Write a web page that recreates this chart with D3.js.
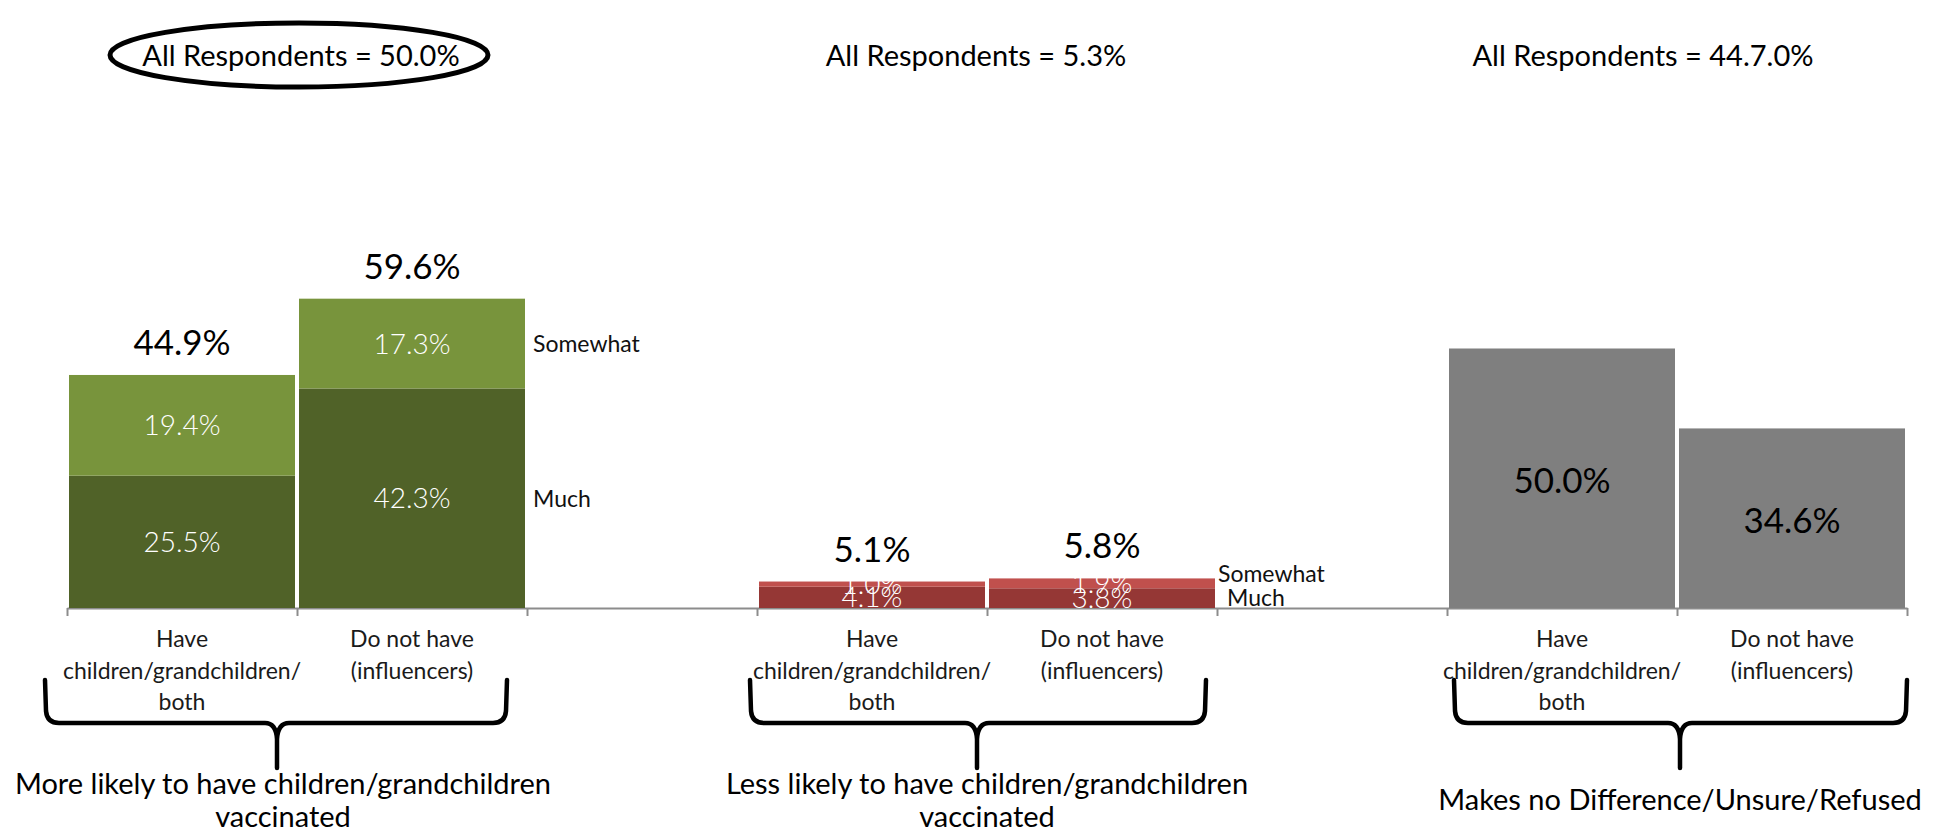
<!DOCTYPE html>
<html>
<head>
<meta charset="utf-8">
<script src="https://cdn.jsdelivr.net/npm/d3@7"></script>
<style>
  html, body { margin: 0; padding: 0; background: #fff; }
  svg { display: block; font-family: Lato, "Open Sans", sans-serif; }
</style>
</head>
<body>
<svg id="chart" width="1942" height="833"></svg>
<script>
// ---------------- data ----------------
const groupNames = [
  ["More likely to have children/grandchildren", "vaccinated"],
  ["Less likely to have children/grandchildren", "vaccinated"],
  ["Makes no Difference/Unsure/Refused"]
];
const groupTitles = ["All Respondents = 50.0%", "All Respondents = 5.3%", "All Respondents = 44.7.0%"];
const categoryLines = [["Have", "children/grandchildren/", "both"], ["Do not have", "(influencers)"]];
const slotKeys = ["more_have", "more_not", "gap1", "less_have", "less_not", "gap2", "none_have", "none_not"];
const stackedKeys = ["more_have", "more_not", "less_have", "less_not"];
const muchValues = [25.5, 42.3, 4.1, 3.8];
const somewhatValues = [19.4, 17.3, 1.0, 1.9];
const totalValues = [44.9, 59.6, 5.1, 5.8];
const neutralKeys = ["none_have", "none_not"];
const neutralValues = [50.0, 34.6];
const seriesNames = ["Much", "Somewhat"];

// ---------------- layout / style ----------------
const colors = {
  more: { Much: "#506228", Somewhat: "#78943C" },
  less: { Much: "#953735", Somewhat: "#C0504D" },
  none: "#7F7F7F"
};
const svg = d3.select("#chart");
const x = d3.scaleBand().domain(slotKeys).range([67, 1907]).paddingInner(4 / 230).paddingOuter(2 / 230);
const y = d3.scaleLinear().domain([0, 100]).range([608, 89]);
const slot = d3.scaleLinear().domain([0, slotKeys.length]).range([67, 1907]);

const groupSlots = [["more_have", "more_not"], ["less_have", "less_not"], ["none_have", "none_not"]];
const groupCenter = g => (x(groupSlots[g][0]) + x(groupSlots[g][1]) + x.bandwidth()) / 2;
const titleOffsets = [4, -11, -34];
const labelOffsets = [-14, 0, 3];
const braceSpec = [ {l: -22, r: -20, c: -20}, {l: -7, r: -11, c: -10}, {l: 7, r: 0, c: 3} ];

// ---------------- axis ----------------
const axis = d3.axisBottom(slot).tickValues(d3.range(slotKeys.length + 1)).tickFormat("").tickSize(8).tickSizeOuter(0);
const gAxis = svg.append("g").attr("transform", `translate(0,${y(0)})`).call(axis);
gAxis.selectAll("path, line").attr("stroke", "#8C8C8C").attr("stroke-width", 2);

// ---------------- stacked bars ----------------
const rows = stackedKeys.map((k, i) => ({ key: k, Much: muchValues[i], Somewhat: somewhatValues[i], total: totalValues[i] }));
const stack = d3.stack().keys(seriesNames)(rows);
const gBars = svg.append("g");
stack.forEach(layer => {
  gBars.selectAll(null).data(layer).enter().append("rect")
    .attr("x", d => x(d.data.key))
    .attr("width", x.bandwidth())
    .attr("y", d => y(d[1]))
    .attr("height", d => y(d[0]) - y(d[1]))
    .attr("fill", d => colors[d.data.key.split("_")[0]][layer.key]);
});
stack.forEach(layer => {
  gBars.selectAll(null).data(layer).enter().append("text")
    .attr("x", d => x(d.data.key) + x.bandwidth() / 2)
    .attr("y", d => (y(d[0]) + y(d[1])) / 2)
    .attr("dy", "0.36em")
    .attr("text-anchor", "middle")
    .attr("fill", "#fff")
    .attr("font-size", 28)
    .attr("font-weight", 300)
    .text(d => d.data[layer.key].toFixed(1) + "%");
});
gBars.selectAll(null).data(rows).enter().append("text")
  .attr("x", d => x(d.key) + x.bandwidth() / 2)
  .attr("y", d => y(d.total) - 20)
  .attr("text-anchor", "middle")
  .attr("fill", "#000")
  .attr("font-size", 35)
  .text(d => d.total.toFixed(1) + "%");

// neutral bars
const neutralRows = neutralKeys.map((k, i) => ({ key: k, v: neutralValues[i] }));
gBars.selectAll(null).data(neutralRows).enter().append("rect")
  .attr("x", d => x(d.key)).attr("width", x.bandwidth())
  .attr("y", d => y(d.v)).attr("height", d => y(0) - y(d.v))
  .attr("fill", colors.none);
gBars.selectAll(null).data(neutralRows).enter().append("text")
  .attr("x", d => x(d.key) + x.bandwidth() / 2)
  .attr("y", d => (y(0) + y(d.v)) / 2 + 2)
  .attr("dy", "0.36em")
  .attr("text-anchor", "middle")
  .attr("fill", "#000")
  .attr("font-size", 35)
  .text(d => d.v.toFixed(1) + "%");

// series labels (Somewhat / Much)
const seriesLabelOffsets = [
  { Somewhat: [8, 0], Much: [8, 0] },
  { Somewhat: [3, -10], Much: [12, 0] }
];
[1, 3].forEach((ri, gi) => {
  const row = rows[ri];
  stack.forEach(layer => {
    const d = layer[ri];
    const off = seriesLabelOffsets[gi][layer.key];
    svg.append("text")
      .attr("x", x(row.key) + x.bandwidth() + off[0])
      .attr("y", (y(d[0]) + y(d[1])) / 2 + off[1])
      .attr("dy", "0.36em")
      .attr("font-size", 23)
      .attr("fill", "#111")
      .text(layer.key);
  });
});

// category labels
const gCat = svg.append("g");
groupSlots.forEach(pair => {
  pair.forEach((k, ci) => {
    const t = gCat.append("text")
      .attr("x", x(k) + x.bandwidth() / 2)
      .attr("y", 647)
      .attr("text-anchor", "middle")
      .attr("font-size", 23)
      .attr("fill", "#1a1a1a");
    categoryLines[ci].forEach((line, li) => {
      t.append("tspan").attr("x", x(k) + x.bandwidth() / 2).attr("dy", li === 0 ? 0 : 31.5).text(line);
    });
  });
});

// braces
function bracePath(xl, xr, xc) {
  const top = 680, line = 723, tip = 768;
  return `M${xl},${top} L${xl + 1},${line - 12} Q${xl + 2},${line} ${xl + 14},${line} L${xc - 12},${line} Q${xc - 1},${line} ${xc},${line + 16} L${xc},${tip}` +
         ` M${xr},${top} L${xr - 1},${line - 12} Q${xr - 2},${line} ${xr - 14},${line} L${xc + 12},${line} Q${xc + 1},${line} ${xc},${line + 16}`;
}
groupSlots.forEach((pair, g) => {
  const xl = x(pair[0]) - x.step() * x.paddingInner() / 2 + braceSpec[g].l;
  const xr = x(pair[1]) + x.bandwidth() + x.step() * x.paddingInner() / 2 + braceSpec[g].r;
  const xc = groupCenter(g) + braceSpec[g].c;
  svg.append("path").attr("d", bracePath(xl, xr, xc))
    .attr("fill", "none").attr("stroke", "#000").attr("stroke-width", 4.5)
    .attr("stroke-linejoin", "round").attr("stroke-linecap", "round");
});

// group labels
groupNames.forEach((lines, g) => {
  const cx = groupCenter(g) + labelOffsets[g];
  const t = svg.append("text").attr("x", cx).attr("y", lines.length === 1 ? 810 : 794)
    .attr("text-anchor", "middle").attr("font-size", 29).attr("fill", "#000");
  lines.forEach((l, li) => t.append("tspan").attr("x", cx).attr("dy", li === 0 ? 0 : 33).text(l));
});

// titles
groupTitles.forEach((title, g) => {
  svg.append("text").attr("x", groupCenter(g) + titleOffsets[g]).attr("y", 66)
    .attr("text-anchor", "middle").attr("font-size", 29).attr("fill", "#000").text(title);
});
svg.append("ellipse").attr("cx", groupCenter(0) + titleOffsets[0] - 2).attr("cy", 55)
  .attr("rx", 189).attr("ry", 32).attr("fill", "none").attr("stroke", "#000").attr("stroke-width", 5);
</script>
</body>
</html>
